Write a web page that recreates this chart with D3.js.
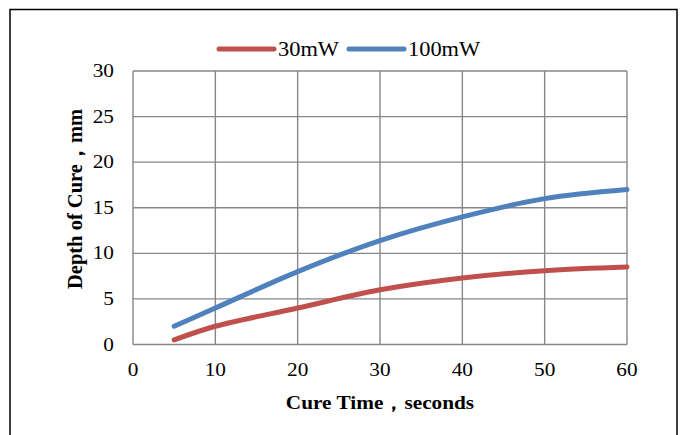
<!DOCTYPE html>
<html>
<head>
<meta charset="utf-8">
<script src="https://cdn.jsdelivr.net/npm/d3@7"></script>
<style>
  body { margin: 0; background: #fff; }
  text { font-family: "Liberation Serif", "Times New Roman", serif; fill: #000; }
</style>
</head>
<body>
<svg id="chart"></svg>
<script>
// data
const cureTime = [5, 10, 20, 30, 40, 50, 60];
const depth30mW = [0.5, 2.0, 4.0, 6.0, 7.3, 8.1, 8.5];
const depth100mW = [2.0, 4.0, 8.0, 11.4, 14.0, 16.0, 17.0];
const seriesNames = ["30mW", "100mW"];
const seriesColors = ["#C0504D", "#4F81BD"];
const xTicks = [0, 10, 20, 30, 40, 50, 60];
const yTicks = [0, 5, 10, 15, 20, 25, 30];

const width = 681;
const height = 435;
const plot = { left: 133, right: 627, top: 71, bottom: 344.5 };
const stretch = 1.12; // the source picture is a little wider than tall

const svg = d3.select("#chart")
  .attr("width", width)
  .attr("height", height);

// outer chart border
svg.append("rect")
  .attr("x", 10)
  .attr("y", 9.5)
  .attr("width", 667)
  .attr("height", 440)
  .attr("fill", "#fff")
  .attr("stroke", "#000")
  .attr("stroke-width", 1.5);

const x = d3.scaleLinear().domain([0, 60]).range([plot.left, plot.right]);
const y = d3.scaleLinear().domain([0, 30]).range([plot.bottom, plot.top]);

const place = (px, py) => `translate(${px},${py}) scale(${stretch},1)`;

const grid = svg.append("g")
  .attr("stroke", "#878787")
  .attr("stroke-width", 1.4);

grid.selectAll(".vg")
  .data(xTicks)
  .enter()
  .append("line")
  .attr("x1", d => x(d)).attr("x2", d => x(d))
  .attr("y1", plot.top).attr("y2", plot.bottom);

grid.selectAll(".hg")
  .data(yTicks)
  .enter()
  .append("line")
  .attr("x1", plot.left).attr("x2", plot.right)
  .attr("y1", d => y(d)).attr("y2", d => y(d));

// tick labels
svg.append("g")
  .selectAll("text")
  .data(xTicks)
  .enter()
  .append("text")
  .attr("transform", d => place(x(d), 376))
  .attr("text-anchor", "middle")
  .style("font-size", "19px")
  .text(d => d);

svg.append("g")
  .selectAll("text")
  .data(yTicks)
  .enter()
  .append("text")
  .attr("transform", d => place(114, y(d) + 6))
  .attr("text-anchor", "end")
  .style("font-size", "19px")
  .text(d => d);

// curves
const line = d3.line()
  .x((d, i) => x(cureTime[i]))
  .y(d => y(d))
  .curve(d3.curveCatmullRom.alpha(0.5));

[depth30mW, depth100mW].forEach((vals, i) => {
  svg.append("path")
    .datum(vals)
    .attr("d", line)
    .attr("fill", "none")
    .attr("stroke", seriesColors[i])
    .attr("stroke-width", 5)
    .attr("stroke-linecap", "round")
    .attr("stroke-linejoin", "round");
});

// legend
const legendX = [219, 349];
const legend = svg.append("g");
seriesNames.forEach((name, i) => {
  legend.append("line")
    .attr("x1", legendX[i]).attr("x2", legendX[i] + 55)
    .attr("y1", 49).attr("y2", 49)
    .attr("stroke", seriesColors[i])
    .attr("stroke-width", 5)
    .attr("stroke-linecap", "round");
  legend.append("text")
    .attr("transform", place(legendX[i] + 59, 56))
    .style("font-size", "20px")
    .text(name);
});

// axis titles
svg.append("text")
  .attr("transform", place(380, 409))
  .attr("text-anchor", "middle")
  .style("font-size", "19px")
  .style("font-weight", "bold")
  .text("Cure Time，seconds");

svg.append("text")
  .attr("transform", "translate(82,199) rotate(-90)")
  .attr("text-anchor", "middle")
  .style("font-size", "20.5px")
  .style("font-weight", "bold")
  .text("Depth of Cure，mm");
</script>
</body>
</html>
